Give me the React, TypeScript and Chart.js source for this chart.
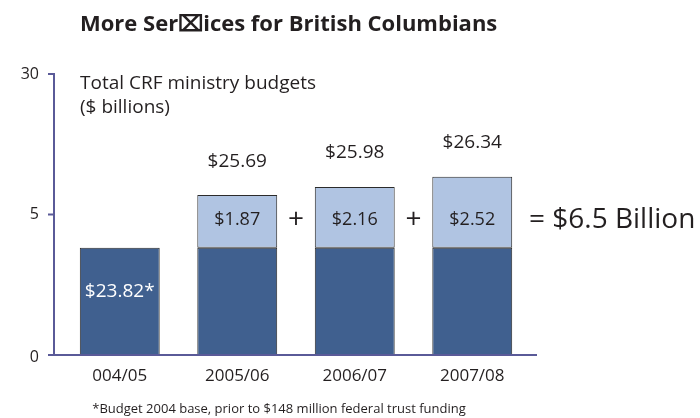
import { useEffect, useRef } from "react";
import { Chart, registerables } from "chart.js";

Chart.register(...registerables);

const categories = ["004/05", "2005/06", "2006/07", "2007/08"];
const baseValues = [23.82, 23.82, 23.82, 23.82];
const addedValues: (number | null)[] = [null, 1.87, 2.16, 2.52];
const totalLabels = ["", "$25.69", "$25.98", "$26.34"];
const baseLabels = ["$23.82*", "", "", ""];
const addedLabels = ["", "$1.87", "$2.16", "$2.52"];
const yTickValues = [20, 25, 30];
const yTickLabels = ["0", "5", "30"];
const titleText = "More Ser\u2327ices for British Columbians";
const subtitleLines = ["Total CRF ministry budgets", "($ billions)"];
const sumText = "= $6.5 Billion";
const footnote = "*Budget 2004 base, prior to $148 million federal trust funding";

const FONT = "'Open Sans', 'Noto Sans', sans-serif";
const TEXT = "#231f20";
const AXIS = "#5a5a98";
const DARK = "#40608f";
const LIGHT = "#b0c4e2";

const decorPlugin = {
  id: "decor",
  afterDatasetsDraw(chart: any) {
    const ctx = chart.ctx as CanvasRenderingContext2D;
    const xs = chart.scales.x;
    const ys = chart.scales.y;
    ctx.save();

    // axes
    const axisX = 54;
    const yTop = ys.getPixelForValue(30);
    const yBot = ys.getPixelForValue(20);
    ctx.strokeStyle = AXIS;
    ctx.lineWidth = 2;
    ctx.beginPath();
    ctx.moveTo(axisX, yTop - 1);
    ctx.lineTo(axisX, yBot);
    ctx.moveTo(48, yBot);
    ctx.lineTo(537, yBot);
    yTickValues.forEach((v) => {
      if (v === 20) return;
      const py = ys.getPixelForValue(v);
      ctx.moveTo(48, py);
      ctx.lineTo(axisX, py);
    });
    ctx.stroke();

    // y tick labels
    ctx.fillStyle = TEXT;
    ctx.font = `16px ${FONT}`;
    ctx.textAlign = "right";
    ctx.textBaseline = "middle";
    yTickValues.forEach((v, i) => {
      const py = ys.getPixelForValue(v) + (v === 20 ? 2 : 0);
      ctx.fillText(yTickLabels[i], 39, py);
    });

    // category labels
    ctx.textAlign = "center";
    ctx.font = `17px ${FONT}`;
    categories.forEach((c, i) => {
      ctx.fillText(c, xs.getPixelForValue(i), 376);
    });

    // bar labels
    categories.forEach((_, i) => {
      const cx = xs.getPixelForValue(i);
      const total = baseValues[i] + (addedValues[i] ?? 0);
      if (totalLabels[i]) {
        ctx.fillStyle = TEXT;
        ctx.font = `19px ${FONT}`;
        ctx.fillText(totalLabels[i], cx, ys.getPixelForValue(total) - 34);
      }
      if (addedLabels[i]) {
        ctx.fillStyle = TEXT;
        ctx.font = `18px ${FONT}`;
        ctx.fillText(addedLabels[i], cx, ys.getPixelForValue(25) + 5);
      }
      if (baseLabels[i]) {
        ctx.fillStyle = "#ffffff";
        ctx.font = `19px ${FONT}`;
        ctx.fillText(baseLabels[i], cx, ys.getPixelForValue(22.25));
      }
    });

    // plus signs between bars
    ctx.fillStyle = TEXT;
    ctx.font = `28px ${FONT}`;
    for (let i = 1; i < categories.length - 1; i++) {
      const mx = (xs.getPixelForValue(i) + xs.getPixelForValue(i + 1)) / 2;
      ctx.fillText("+", mx, ys.getPixelForValue(25) + 6);
    }
    ctx.textAlign = "left";
    ctx.font = `28px ${FONT}`;
    ctx.fillText(sumText, 529, ys.getPixelForValue(25) + 6);

    // title / subtitle / footnote
    ctx.font = `bold 22px ${FONT}`;
    ctx.textBaseline = "alphabetic";
    ctx.fillText(titleText, 80, 31);
    ctx.font = `19px ${FONT}`;
    ctx.fillText(subtitleLines[0], 80, 89);
    ctx.fillText(subtitleLines[1], 80, 113);
    ctx.textAlign = "center";
    ctx.font = `13px ${FONT}`;
    ctx.fillText(footnote, 279, 413);

    ctx.restore();
  },
};

export default function App() {
  const ref = useRef<HTMLCanvasElement | null>(null);
  useEffect(() => {
    document.body.style.margin = "0";
    const canvas = ref.current;
    if (!canvas) return;
    const chart = new Chart(canvas, {
      type: "bar",
      data: {
        labels: categories,
        datasets: [
          {
            data: baseValues,
            backgroundColor: DARK,
            borderColor: "#2b2b2b",
            borderWidth: 1,
            borderSkipped: "bottom",
          },
          {
            data: addedValues,
            backgroundColor: LIGHT,
            borderColor: "#2b2b2b",
            borderWidth: 1,
            borderSkipped: false,
          },
        ],
      },
      options: {
        animation: false,
        responsive: true,
        maintainAspectRatio: false,
        layout: { padding: { left: 61, right: 169, top: 74, bottom: 63 } },
        datasets: { bar: { barPercentage: 0.68, categoryPercentage: 1 } },
        plugins: { legend: { display: false }, tooltip: { enabled: false } },
        scales: {
          x: { display: false, stacked: true },
          y: { display: false, stacked: true, min: 20, max: 30 },
        },
      },
      plugins: [decorPlugin],
    });
    return () => chart.destroy();
  }, []);
  return (
    <div style={{ width: 700, height: 418, position: "relative", background: "#fff" }}>
      <canvas ref={ref} />
    </div>
  );
}
